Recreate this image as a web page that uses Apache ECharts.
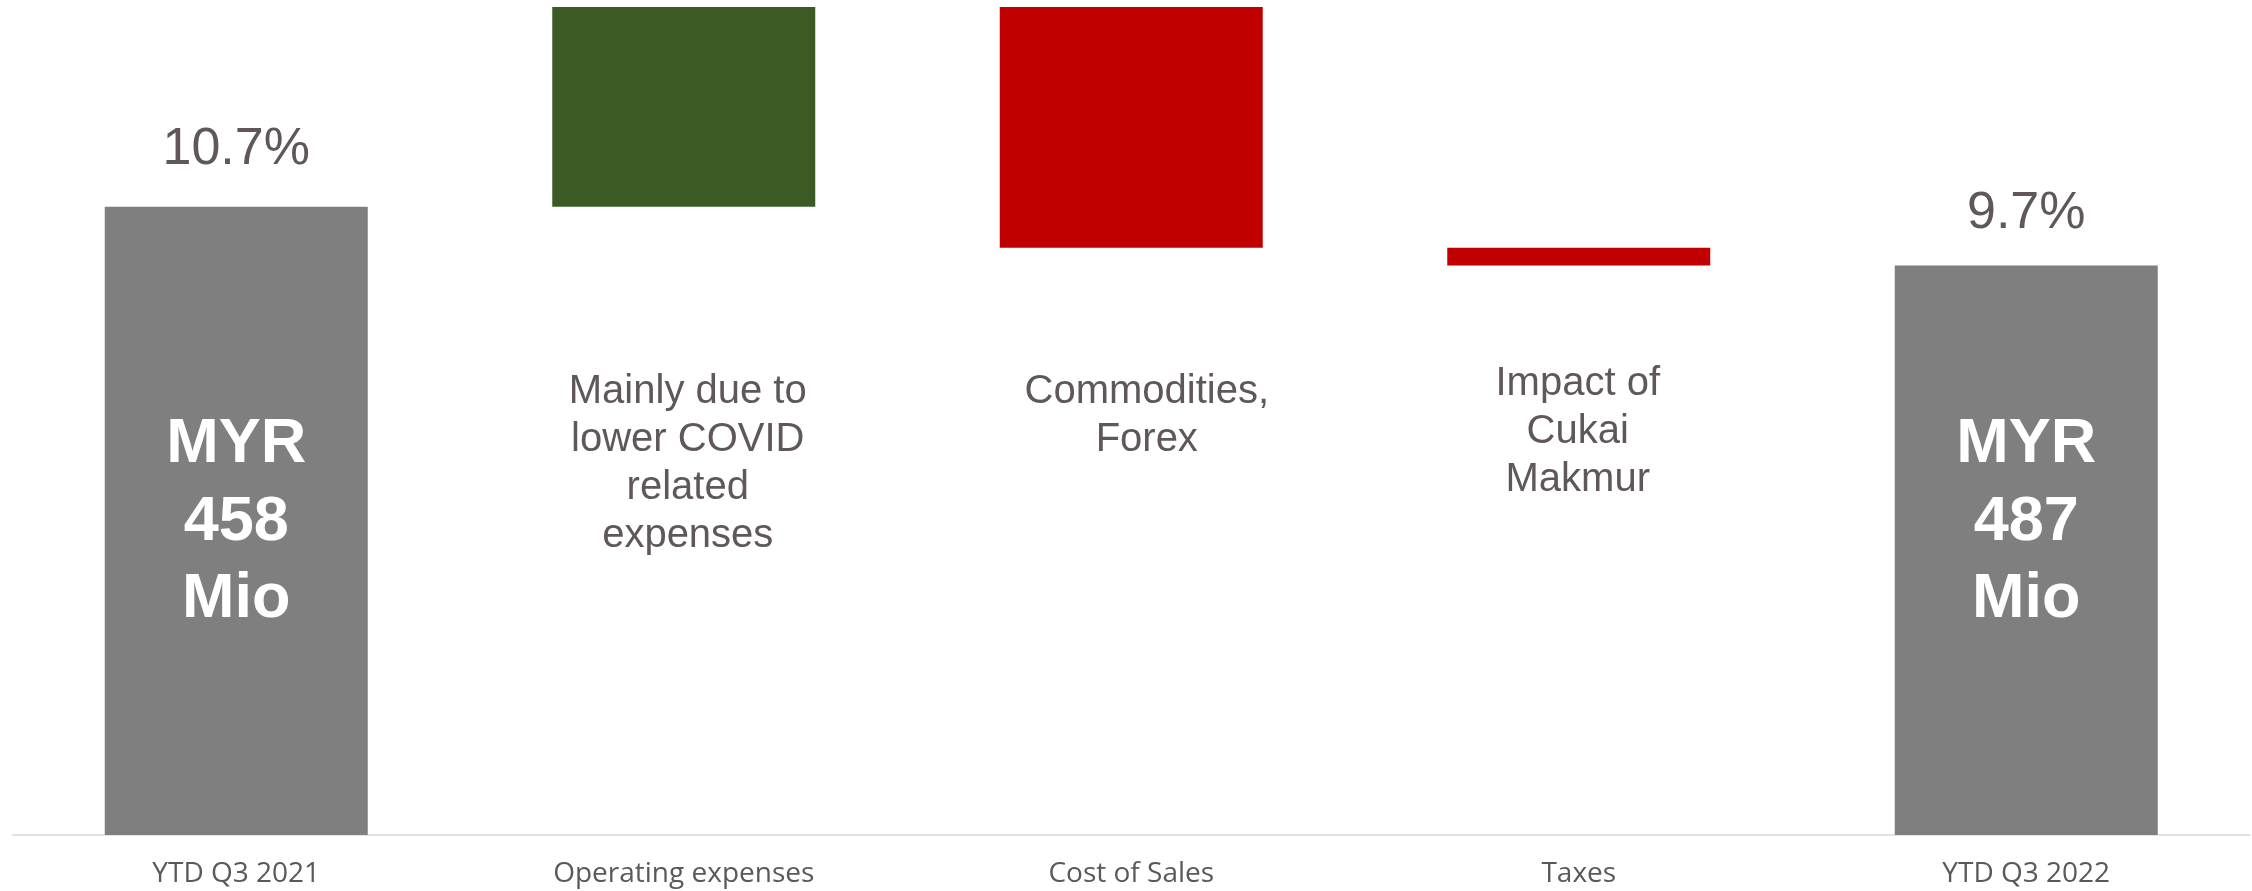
<!DOCTYPE html>
<html>
<head>
<meta charset="utf-8">
<script src="https://cdn.jsdelivr.net/npm/echarts@6/dist/echarts.min.js"></script>
<style>
  html, body { margin: 0; padding: 0; background: #ffffff; }
  #chart { width: 2252px; height: 891px; }
</style>
</head>
<body>
<div id="chart"></div>
<script>
// ---- data ----
const categories = ['YTD Q3 2021', 'Operating expenses', 'Cost of Sales', 'Taxes', 'YTD Q3 2022'];
const startMargin = 10.7;           // % margin YTD Q3 2021
const changes = [3.4, -4.1, -0.3];  // opex, cost of sales, taxes (pp)
const endMargin = 9.7;              // % margin YTD Q3 2022
const insideLabels = ['MYR\n458\nMio', '', '', '', 'MYR\n487\nMio'];
const notes = ['', 'Mainly due to\nlower COVID\nrelated\nexpenses', 'Commodities,\nForex', 'Impact of\nCukai\nMakmur', ''];

// ---- styling / layout ----
const GRAY = '#7f7f7f', GREEN = '#3b5a24', RED = '#c00000';
const TEXT = '#605858';
const noteLayout = [null, { dx: 4, y: 368 }, { dx: 15.5, y: 368 }, { dx: -1, y: 360 }, null];
const insideOffsets = [[0, 1.5], null, null, null, [0, -28]];
const pctDistance = [31, 0, 0, 0, 26];

// ---- build waterfall ----
const base = [0];
const vis = [startMargin];
const colors = [GRAY];
let level = startMargin;
changes.forEach(c => {
  if (c >= 0) { base.push(level); vis.push(c); colors.push(GREEN); level += c; }
  else { level += c; base.push(level); vis.push(-c); colors.push(RED); }
});
base.push(0); vis.push(endMargin); colors.push(GRAY);
const topValue = Math.max(...vis.map((v, i) => v + base[i]));

const visData = vis.map((v, i) => {
  const item = { value: v, itemStyle: { color: colors[i] } };
  if (insideLabels[i]) {
    item.label = {
      show: true, position: 'inside', offset: insideOffsets[i],
      formatter: insideLabels[i], color: '#ffffff',
      fontFamily: '"Liberation Sans", Arial, sans-serif', fontWeight: 'bold',
      fontSize: 63, lineHeight: 77.5, align: 'center'
    };
  }
  return item;
});
const pctData = vis.map((v, i) => {
  if (i === 0 || i === vis.length - 1) {
    return { value: v + base[i], label: { distance: pctDistance[i] } };
  }
  return '-';
});

const chart = echarts.init(document.getElementById('chart'), null, { renderer: 'canvas' });
chart.setOption({
  animation: false,
  backgroundColor: '#ffffff',
  grid: { left: 12.5, right: 2, top: 7, bottom: 56, containLabel: false },
  xAxis: {
    type: 'category', data: categories, boundaryGap: true,
    axisLine: { show: true, lineStyle: { color: '#e3e3e3', width: 2 } },
    axisTick: { show: false },
    axisLabel: { color: '#595959', fontFamily: '"Open Sans", sans-serif', fontSize: 28, margin: 25 }
  },
  yAxis: { type: 'value', min: 0, max: topValue, show: false, splitLine: { show: false } },
  series: [
    { name: 'base', type: 'bar', stack: 'w', data: base, barWidth: 263,
      itemStyle: { color: 'transparent' }, silent: true },
    { name: 'value', type: 'bar', stack: 'w', data: visData, barWidth: 263,
      label: { show: false } },
    { name: 'pct', type: 'bar', stack: 'p', barGap: '-100%', barWidth: 263, data: pctData,
      itemStyle: { color: 'transparent' }, silent: true,
      label: { show: true, position: 'top', color: TEXT,
        fontFamily: '"Liberation Sans", Arial, sans-serif', fontSize: 52, lineHeight: 52,
        formatter: p => (typeof p.value === 'number' ? p.value.toFixed(1) + '%' : '') } }
  ]
});

// annotations below the change bars
const graphics = [];
notes.forEach((t, i) => {
  if (!t) return;
  const x = chart.convertToPixel({ xAxisIndex: 0 }, categories[i]) + noteLayout[i].dx;
  graphics.push({
    type: 'text', x: x, y: noteLayout[i].y, silent: true,
    style: { text: t, fill: TEXT, align: 'center', verticalAlign: 'top',
      font: '40px "Liberation Sans", Arial, sans-serif', lineHeight: 48 }
  });
});
chart.setOption({ graphic: graphics });
</script>
</body>
</html>
